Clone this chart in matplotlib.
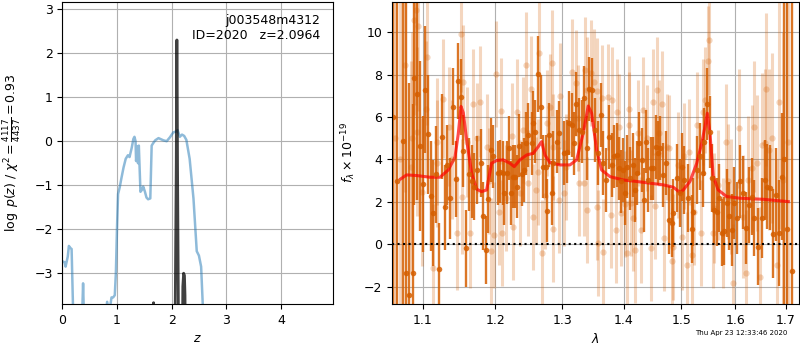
import matplotlib
matplotlib.use("Agg")
import matplotlib.pyplot as plt
from matplotlib.ticker import ScalarFormatter, NullLocator

plt.rcParams['font.size'] = 9

# ---- redshift panel ----
z_coarse = [0.0, 0.04, 0.06, 0.10, 0.12, 0.15, 0.17, 0.20, 0.25, 0.35, 0.38, 0.40, 0.50,
            0.75, 0.82, 0.86, 0.90, 0.93, 0.96, 0.98, 1.00, 1.02, 1.05, 1.08, 1.12, 1.16,
            1.20, 1.23, 1.27, 1.30, 1.32, 1.34, 1.35, 1.37, 1.385, 1.40, 1.42, 1.43, 1.46,
            1.48, 1.51, 1.54, 1.57, 1.61, 1.635, 1.66, 1.70, 1.76, 1.85, 1.91, 1.97, 2.03,
            2.08, 2.11, 2.15, 2.19, 2.23, 2.27, 2.33, 2.40, 2.46, 2.50, 2.54, 2.58, 2.65]
logp_coarse = [-2.73, -2.75, -2.85, -2.62, -2.38, -2.43, -2.45, -4.0, -5.0, -4.5, -3.23, -4.2, -5.0,
               -4.5, -3.65, -3.9, -3.55, -3.55, -3.5, -3.0, -2.0, -1.2, -1.05, -0.85, -0.6, -0.4,
               -0.32, -0.36, -0.15, 0.05, 0.1, 0.0, -0.45, -0.12, -0.5, -0.1, -0.8, -1.15, -1.1,
               -1.03, -1.14, -1.28, -1.32, -1.3, -0.1, -0.05, 0.02, 0.07, 0.02, 0.0, 0.09, 0.2,
               0.22, 0.25, 0.1, 0.15, 0.12, 0.03, -0.4, -1.3, -2.5, -2.6, -2.85, -4.0, -5.0]

z_fine = [1.64, 1.67, 1.70, 2.05, 2.065, 2.085, 2.094, 2.099, 2.108, 2.125, 2.14,
          2.19, 2.205, 2.22, 2.235, 2.245, 2.26]
logp_fine = [-6.0, -3.67, -6.0, -6.0, -4.0, -0.5, 2.3, 2.3, -0.5, -4.0, -6.0,
             -6.0, -3.3, -3.0, -3.05, -3.5, -6.0]

chi2_num = 4117
chi2_den = 4437
field = 'j003548m4312'
obj_id = 2020
z_best = 2.0964

# ---- spectrum panel ----
wave_dark = [1.062, 1.067, 1.0747, 1.0781, 1.0823, 1.0867, 1.0888, 1.0927, 1.0964, 1.1007,
             1.1034, 1.1074, 1.1114, 1.1141, 1.118, 1.1221, 1.1261, 1.1301, 1.1328, 1.1366,
             1.1407, 1.1448, 1.1476, 1.1517, 1.1545, 1.1586, 1.1627, 1.1665, 1.1701, 1.1743,
             1.1792, 1.1829, 1.1863, 1.1891, 1.1938, 1.1963, 1.2038, 1.2072, 1.2107, 1.2130,
             1.2169, 1.2198, 1.2223, 1.2253, 1.2286, 1.2311, 1.2345, 1.2390, 1.2419, 1.2449,
             1.2483, 1.2539, 1.2559, 1.2589, 1.2629, 1.2671, 1.2710, 1.2747, 1.2771, 1.2801,
             1.2839, 1.2864, 1.2925, 1.2956, 1.3029, 1.3071, 1.3112, 1.3150, 1.3186, 1.3217,
             1.3269, 1.3309, 1.3346, 1.3389, 1.3430, 1.3469, 1.3523, 1.3566, 1.3615, 1.3658,
             1.3702, 1.3756, 1.3801, 1.3839, 1.3879, 1.3917, 1.3951, 1.3989, 1.4023, 1.4056,
             1.4102, 1.4148, 1.4187, 1.4226, 1.4259, 1.4301, 1.4341, 1.4375, 1.4414, 1.4456,
             1.4501, 1.4548, 1.4577, 1.4618, 1.4676, 1.4723, 1.4781, 1.4824, 1.4853, 1.4913,
             1.4972, 1.5003, 1.5049, 1.5121, 1.5184, 1.5213, 1.5275, 1.5335, 1.5385, 1.5409,
             1.5469, 1.5520, 1.5563, 1.5594, 1.5645, 1.5693, 1.5739, 1.5788, 1.5833, 1.5882,
             1.5929, 1.5973, 1.6025, 1.6088, 1.6140, 1.6204, 1.6268, 1.6315, 1.6360, 1.6444,
             1.6512, 1.6577, 1.6610, 1.6677, 1.6743, 1.6797, 1.6863, 1.6912, 1.6969, 1.7026,
             1.7123]
flux_dark = [6.0, 3.0, 4.87, -1.37, -2.39, -1.37, 7.83, 7.08, 4.64, 2.83,
             7.28, 5.19, 2.28, 1.49, 3.3, -1.18, 5.08, 1.75, 3.74, 2.17,
             6.49, 3.08, 7.7, 6.93, 4.4, -0.2, 3.29, 2.96, 2.72, 3.51,
             3.82, 1.34, -0.27, 2.12, 4.45, 4.14, 3.35, 3.43, 3.35, 2.41,
             3.38, 4.53, 2.41, 3.19, 3.19, 2.72, 4.65, 3.32, 3.51, 4.76,
             5.16, 4.76, 5.71, 5.31, 8.03, 6.46, 3.66, 3.66, 1.59, 5.16,
             2.41, 3.82, 4.84, 5.24, 4.29, 4.37, 5.71, 5.63, 4.76, 6.62,
             5.39, 5.31, 6.89, 4.53, 7.31, 7.28, 5.39, 4.29, 6.1, 3.82,
             3.03, 5.05, 3.74, 4.14, 4.21, 3.58, 2.96, 3.51, 2.41, 3.66,
             3.11, 3.74, 2.56, 3.35, 4.76, 3.98, 2.09, 4.84, 3.03, 3.58,
             3.58, 4.6, 4.29, 4.53, 3.27, 3.82, 1.15, 0.99, 1.46, 3.11,
             2.41, 3.66, 3.03, 2.17, 0.71, 1.54, 3.51, 4.14, 3.35, 4.84,
             6.6, 5.31, 3.11, 1.62, 1.54, 2.17, 0.55, 0.64, 1.93, 1.34,
             0.68, 1.93, 1.23, 2.96, 2.44, 0.75, 1.86, 2.25, 1.23, -0.11,
             1.23, 3.03, 2.72, 2.67, 0.49, 2.33, 0.52, 3.19, 4.0, 0.71,
             -1.24]
err_dark = [20, 20, 15, 13, 10, 8, 6, 5, 4, 3.2,
            3.0, 2.8, 2.6, 2.5, 2.3, 2.2, 2.0, 2.0, 1.9, 1.9,
            1.8, 1.8, 1.8, 1.8, 1.7, 1.8, 1.7, 1.7, 1.6, 1.6,
            1.6, 1.6, 1.6, 1.6, 1.5, 1.5, 1.5, 1.5, 1.5, 1.5,
            1.5, 1.5, 1.5, 1.5, 1.5, 1.5, 1.5, 1.5, 1.5, 1.5,
            1.5, 1.5, 1.5, 1.5, 1.8, 1.5, 1.5, 1.5, 1.5, 1.5,
            1.5, 1.5, 1.5, 1.5, 1.5, 1.5, 1.5, 1.5, 1.5, 1.5,
            1.5, 1.5, 1.5, 1.5, 1.5, 1.5, 1.5, 1.5, 1.5, 1.5,
            1.5, 1.5, 1.5, 1.5, 1.5, 1.5, 1.5, 1.5, 1.5, 1.5,
            1.5, 1.5, 1.5, 1.5, 1.5, 1.5, 1.5, 1.5, 1.5, 1.5,
            1.5, 1.5, 1.5, 1.5, 1.5, 1.5, 1.6, 1.6, 1.6, 1.6,
            1.6, 1.6, 1.6, 1.6, 1.6, 1.6, 1.6, 1.6, 1.6, 1.6,
            1.7, 1.7, 1.6, 1.6, 1.6, 1.6, 1.6, 1.6, 1.6, 1.6,
            1.7, 1.7, 1.7, 1.7, 1.7, 1.7, 1.8, 1.8, 1.8, 1.8,
            1.9, 1.9, 2.0, 2.0, 2.1, 2.2, 2.5, 3.0, 15, 15,
            15]

wave_light = [1.0635, 1.0700, 1.0769, 1.0847, 1.0856, 1.0886, 1.0912, 1.0921, 1.0942, 1.0986,
              1.1045, 1.1060, 1.1141, 1.1186, 1.1197, 1.1274, 1.1351, 1.1393, 1.1457, 1.1513,
              1.1527, 1.1549, 1.1595, 1.1641, 1.1687, 1.1734, 1.1782, 1.1877, 1.1909, 1.1934,
              1.1981, 1.2006, 1.2057, 1.2078, 1.2101, 1.2155, 1.2238, 1.2261, 1.2311, 1.2360,
              1.2409, 1.2449, 1.2474, 1.2520, 1.2559, 1.2595, 1.2634, 1.2649, 1.2686, 1.2741,
              1.2771, 1.2813, 1.2839, 1.2855, 1.2864, 1.2951, 1.2967, 1.3029, 1.3060, 1.3150,
              1.3217, 1.3254, 1.3269, 1.3351, 1.3358, 1.3389, 1.3398, 1.3453, 1.3511, 1.3550,
              1.3559, 1.3576, 1.3642, 1.3658, 1.3740, 1.3785, 1.3794, 1.3867, 1.3879, 1.3912,
              1.3951, 1.4023, 1.4056, 1.4079, 1.4090, 1.4124, 1.4158, 1.4187, 1.4242, 1.4284,
              1.4329, 1.4397, 1.4456, 1.4501, 1.4531, 1.4571, 1.4605, 1.4648, 1.4688, 1.4736,
              1.4781, 1.4824, 1.4853, 1.4941, 1.5003, 1.5044, 1.5103, 1.5139, 1.5184, 1.5226,
              1.5286, 1.5348, 1.5385, 1.5427, 1.5488, 1.5495, 1.5570, 1.5594, 1.5675, 1.5769,
              1.5820, 1.5863, 1.5910, 1.5960, 1.6074, 1.6152, 1.6204, 1.6248, 1.6315, 1.6360,
              1.6413, 1.6478, 1.6512, 1.6577, 1.6597, 1.6662, 1.6711, 1.6811, 1.6863, 1.6933,
              1.7047]
flux_light = [5.0, 4.0, 8.46, 3.66, 5.0, 10.58, 11.05, 5.31, 10.3, 2.45,
              6.37, 8.82, -1.1, 4.84, 3.82, 6.86, 5.55, 4.0, 0.52, 9.9,
              2.25, 7.63, 4.84, 0.52, 6.6, 5.0, 6.73, 4.6, 2.96, -0.3,
              0.44, 8.03, 1.54, 6.3, 0.52, 2.17, 5.11, 0.83, 6.26, 2.41,
              5.39, 8.46, 2.88, 7.31, 1.3, 2.56, 3.43, 9.04, -0.42, 2.28,
              5.71, 6.49, 8.54, 0.71, 4.6, 2.09, 6.97, 2.41, 3.66, 8.14,
              7.59, 5.94, 2.88, 2.88, 8.22, 7.28, 1.62, 8.07, 7.67, 1.75,
              7.25, 0.08, 6.92, -0.35, 6.93, 1.38, 6.81, 0.68, 6.26, 5.55,
              1.46, 1.9, -0.42, 6.37, 5.63, 1.93, 1.23, -0.27, 5.24, 0.68,
              6.34, 5.0, -0.19, 6.73, 1.78, 7.28, 5.27, 6.62, 0.28, 4.6,
              4.53, -0.77, -0.11, 3.74, 0.36, 4.14, -0.97, 4.37, -0.5, 1.54,
              5.63, 0.52, 6.26, 6.81, 8.62, 9.64, 0.52, 1.7, 2.8, 0.52,
              4.84, 2.96, 2.25, -1.84, 5.47, 1.3, -1.37, 3.03, 3.58, 5.55,
              3.82, -1.53, 4.69, 4.76, 7.31, 4.45, 5.0, -0.97, 6.73, 3.03,
              4.84]
err_light = [15, 15, 6, 5, 5, 4.5, 4.5, 4, 4, 3.5,
             3.2, 3.2, 3, 3, 3, 2.8, 2.8, 2.8, 2.7, 2.7,
             2.7, 2.7, 2.6, 2.6, 2.6, 2.6, 2.6, 2.5, 2.5, 2.5,
             2.5, 2.5, 2.5, 2.5, 2.5, 2.5, 2.5, 2.5, 2.5, 2.5,
             2.5, 2.5, 2.5, 2.5, 2.5, 2.5, 2.5, 2.5, 2.5, 2.5,
             2.5, 2.5, 2.5, 2.5, 2.5, 2.5, 2.5, 2.5, 2.5, 2.5,
             2.5, 2.5, 2.5, 2.5, 2.5, 2.5, 2.5, 2.5, 2.5, 2.5,
             2.5, 2.5, 2.5, 2.5, 2.5, 2.5, 2.5, 2.5, 2.5, 2.5,
             2.5, 2.5, 2.5, 2.5, 2.5, 2.5, 2.5, 2.5, 2.5, 2.5,
             2.5, 2.5, 2.5, 2.5, 2.5, 2.5, 2.5, 2.5, 2.5, 2.5,
             2.5, 2.5, 2.5, 2.5, 2.5, 2.5, 2.5, 2.5, 2.5, 2.5,
             2.5, 2.5, 2.5, 2.5, 2.6, 2.6, 2.6, 2.6, 2.6, 2.6,
             2.7, 2.7, 2.7, 2.8, 2.8, 2.9, 3.0, 3.0, 3.0, 3.1,
             3.2, 3.3, 3.4, 3.5, 3.6, 3.8, 4.0, 5.0, 6.0, 7.0,
             12]

wave_model = [1.0714, 1.0790, 1.0921, 1.1096, 1.1230, 1.1342, 1.1434, 1.1479, 1.1517, 1.1549,
              1.1596, 1.1665, 1.1735, 1.1805, 1.1876, 1.1947, 1.2019, 1.2115, 1.2213, 1.2276,
              1.2360, 1.2460, 1.2559, 1.2634, 1.2685, 1.2736, 1.2812, 1.2967, 1.3123, 1.3229,
              1.3334, 1.3414, 1.3469, 1.3550, 1.3631, 1.3768, 1.3990, 1.4216, 1.4445, 1.4677,
              1.4854, 1.4974, 1.5033, 1.5154, 1.5277, 1.5368, 1.5429, 1.5472, 1.5521, 1.5583,
              1.5676, 1.5834, 1.6088, 1.6544, 1.6812, 1.7049]
flux_model = [3.08, 3.27, 3.24, 3.16, 3.16, 3.5, 4.1, 5.2, 6.5, 6.2,
              4.9, 3.35, 2.6, 2.48, 2.56, 3.82, 3.95, 3.98, 3.82, 3.66,
              3.98, 4.21, 4.29, 4.6, 4.84, 4.21, 3.85, 3.74, 3.74, 3.98,
              5.24, 6.52, 6.18, 4.45, 3.5, 3.19, 3.03, 2.96, 2.88, 2.8,
              2.69, 2.44, 2.56, 2.96, 3.82, 4.76, 5.55, 6.18, 5.24, 3.19,
              2.56, 2.25, 2.17, 2.12, 2.06, 2.01]

wave_ticks = [1.1, 1.2, 1.3, 1.4, 1.5, 1.6, 1.7]
grism_color = (0.835, 0.369, 0.0)

fig = plt.figure(figsize=(8, 3.5), dpi=100)

# left: p(z)
ax = fig.add_axes([0.0779, 0.1314, 0.3388, 0.8637])
ax.plot(z_coarse, logp_coarse, color='tab:blue', alpha=0.5, lw=1.8)
ax.plot(z_fine, logp_fine, color='k', alpha=0.75, lw=2)
ax.set_xlim(0, 4.96)
ax.set_ylim(-3.70, 3.17)
ax.set_xticks([0, 1, 2, 3, 4])
ax.set_yticks([-3, -2, -1, 0, 1, 2, 3])
ax.grid()
ax.set_xlabel(r'$z$')
ax.set_ylabel(r'$\log\ p(z)$' + ' / ' +
              r'$\chi^2=\frac{%d}{%d}=%.2f$' % (chi2_num, chi2_den, chi2_num / chi2_den),
              labelpad=8)
ax.text(0.95, 0.96, '%s\nID=%d   z=%.4f' % (field, obj_id, z_best),
        ha='right', va='top', transform=ax.transAxes, fontsize=9)

# right: spectrum
ax2 = fig.add_axes([0.49, 0.1314, 0.5088, 0.8637])
ax2.errorbar(wave_light, flux_light, err_light, marker='o', ms=4.5, linestyle='None',
             color=grism_color, alpha=0.25, elinewidth=2.2, mec='none')
ax2.errorbar(wave_dark, flux_dark, err_dark, marker='o', ms=4, linestyle='None',
             color=grism_color, alpha=0.85, elinewidth=1.7, mec='none')
ax2.plot(wave_model, flux_model, color='r', alpha=0.7, lw=2.2)
ax2.axhline(0, color='k', linestyle=':', lw=1.5)

ax2.set_xscale('log')
ax2.set_xlim(1.0603, 1.727)
ax2.set_ylim(-2.82, 11.44)
ax2.set_xticks(wave_ticks)
ax2.xaxis.set_major_formatter(ScalarFormatter())
ax2.xaxis.set_minor_locator(NullLocator())
ax2.set_yticks([-2, 0, 2, 4, 6, 8, 10])
ax2.grid()
ax2.set_xlabel(r'$\lambda$')
ax2.set_ylabel(r'$f_\lambda\times10^{-19}$')

fig.text(0.984, 0.04, 'Thu Apr 23 12:33:46 2020', ha='right', va='bottom', fontsize=5)

fig.savefig('out.png', dpi=100)
